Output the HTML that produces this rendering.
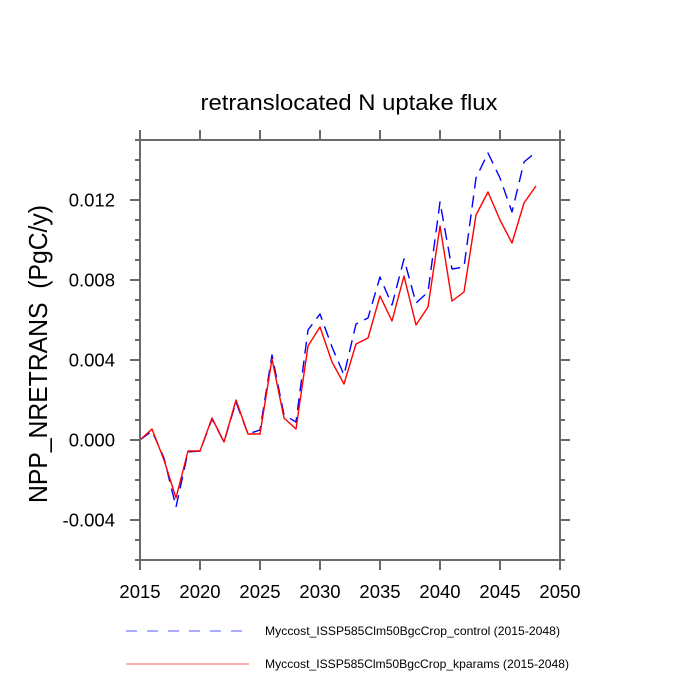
<!DOCTYPE html>
<html>
<head>
<meta charset="utf-8">
<style>
  html, body { margin: 0; padding: 0; background: #ffffff; }
  svg { display: block; }
  text { font-family: "Liberation Sans", "DejaVu Sans", sans-serif; fill: #000; }
</style>
</head>
<body>
<svg width="700" height="700" viewBox="0 0 700 700" xmlns="http://www.w3.org/2000/svg">
  <rect x="0" y="0" width="700" height="700" fill="#ffffff"/>

  <!-- Title -->
  <text x="349" y="110" font-size="22" text-anchor="middle" textLength="297" lengthAdjust="spacingAndGlyphs">retranslocated N uptake flux</text>

  <!-- Y axis label -->
  <text transform="translate(47,354) rotate(-90)" x="0" y="0" font-size="26" text-anchor="middle" textLength="298" lengthAdjust="spacingAndGlyphs">NPP_NRETRANS &#160;(PgC/y)</text>

  <!-- Series: blue dashed (control) -->
  <polyline fill="none" stroke="#0000ff" stroke-width="1.4" stroke-dasharray="12 7" stroke-linejoin="round"
    points="140,440 152,431 164,458 176,507 188,452 200,451 212,419 224,442 236,402 248,434 260,430 272,355 284,415 296,422 308,330 320,314 332,347 344,375 356,324 368,318 380,277 392,305 404,259 416,303 428,292 440,202 452,269 464,267 476,178 488,153 500,178 512,212 524,162 536,152"/>

  <!-- Series: red solid (kparams) -->
  <polyline fill="none" stroke="#ff0000" stroke-width="1.4" stroke-linejoin="round"
    points="140,440 152,429 164,460 176,498 188,451 200,451 212,418 224,442 236,400 248,434 260,434 272,359 284,418 296,429 308,346 320,327 332,362 344,384 356,344 368,338 380,296 392,321 404,276 416,325 428,307 440,226 452,301 464,292 476,215 488,192 500,220 512,243 524,203 536,186"/>

  <!-- Axes box -->
  <g stroke="#6a6a6a" stroke-width="2" fill="none">
    <rect x="140" y="140" width="420" height="420"/>
    <path d="M140,560V570 M200,560V570 M260,560V570 M320,560V570 M380,560V570 M440,560V570 M500,560V570 M560,560V570"/>
    <path d="M140,140V130 M200,140V130 M260,140V130 M320,140V130 M380,140V130 M440,140V130 M500,140V130 M560,140V130"/>
    <path d="M130,200H140 M130,280H140 M130,360H140 M130,440H140 M130,520H140"/>
    <path d="M560,200H570 M560,280H570 M560,360H570 M560,440H570 M560,520H570"/>
    <path d="M135,140H140 M135,160H140 M135,180H140 M135,220H140 M135,240H140 M135,260H140 M135,300H140 M135,320H140 M135,340H140 M135,380H140 M135,400H140 M135,420H140 M135,460H140 M135,480H140 M135,500H140 M135,540H140 M135,560H140"/>
    <path d="M560,140H565 M560,160H565 M560,180H565 M560,220H565 M560,240H565 M560,260H565 M560,300H565 M560,320H565 M560,340H565 M560,380H565 M560,400H565 M560,420H565 M560,460H565 M560,480H565 M560,500H565 M560,540H565 M560,560H565"/>
  </g>

  <!-- Y tick labels -->
  <g font-size="18.5" text-anchor="end">
    <text x="115" y="206.5">0.012</text>
    <text x="115" y="286.5">0.008</text>
    <text x="115" y="366.5">0.004</text>
    <text x="115" y="446.5">0.000</text>
    <text x="115" y="526.5">-0.004</text>
  </g>

  <!-- X tick labels -->
  <g font-size="18.5" text-anchor="middle">
    <text x="140" y="598">2015</text>
    <text x="200" y="598">2020</text>
    <text x="260" y="598">2025</text>
    <text x="320" y="598">2030</text>
    <text x="380" y="598">2035</text>
    <text x="440" y="598">2040</text>
    <text x="500" y="598">2045</text>
    <text x="560" y="598">2050</text>
  </g>

  <!-- Legend -->
  <line x1="126" y1="631" x2="242" y2="631" stroke="#7a7aff" stroke-width="1.2" stroke-dasharray="11 10"/>
  <text x="265" y="635" font-size="12" textLength="295" lengthAdjust="spacingAndGlyphs">Myccost_ISSP585Clm50BgcCrop_control (2015-2048)</text>
  <line x1="126" y1="664" x2="249" y2="664" stroke="#ff7a7a" stroke-width="1.2"/>
  <text x="265" y="668" font-size="12" textLength="304" lengthAdjust="spacingAndGlyphs">Myccost_ISSP585Clm50BgcCrop_kparams (2015-2048)</text>
</svg>
</body>
</html>
